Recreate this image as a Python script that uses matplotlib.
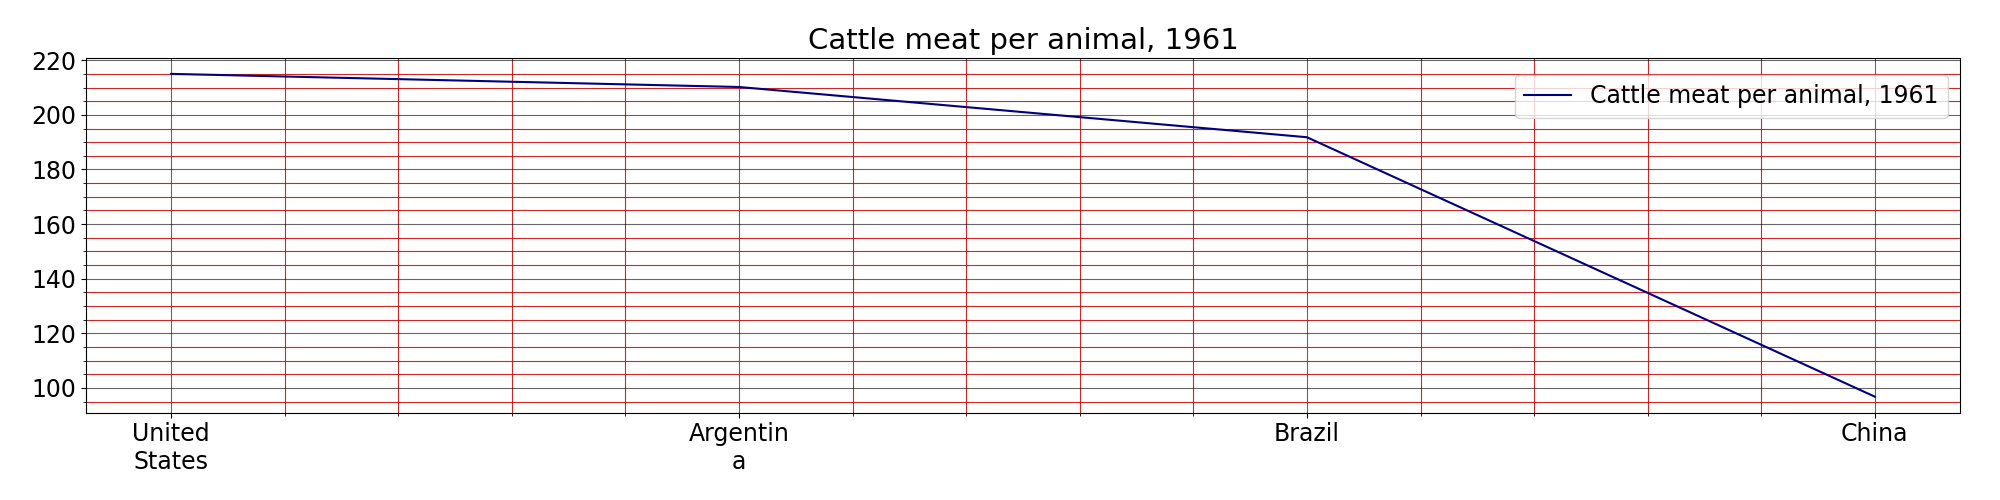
import matplotlib
matplotlib.use("Agg")
import matplotlib.pyplot as plt
from matplotlib.ticker import AutoMinorLocator

countries = ["United\nStates", "Argentin\na", "Brazil", "China"]
values = [215.0, 210.2, 191.8, 96.8]
label = "Cattle meat per animal, 1961"

fig, ax = plt.subplots(figsize=(20, 5), dpi=100)
x = list(range(len(countries)))
ax.plot(x, values, color="navy", label=label)
ax.set_xticks(x)
ax.set_xticklabels(countries, fontsize=17)
ax.tick_params(axis="y", labelsize=17)
ax.set_xlim(-0.15, 3.15)
ax.set_ylim(91, 221)
ax.xaxis.set_minor_locator(AutoMinorLocator(5))
ax.yaxis.set_minor_locator(AutoMinorLocator(4))
ax.grid(which="major", color="black", linewidth=0.8, alpha=0.6)
ax.grid(which="minor", color="#c81010", linewidth=0.8, alpha=0.9)
ax.set_title(label, fontsize=21)
ax.legend(fontsize=17, loc="upper right", bbox_to_anchor=(1.0, 0.985))
fig.subplots_adjust(left=0.043, right=0.98, top=0.885, bottom=0.175)
fig.savefig("out.png")
